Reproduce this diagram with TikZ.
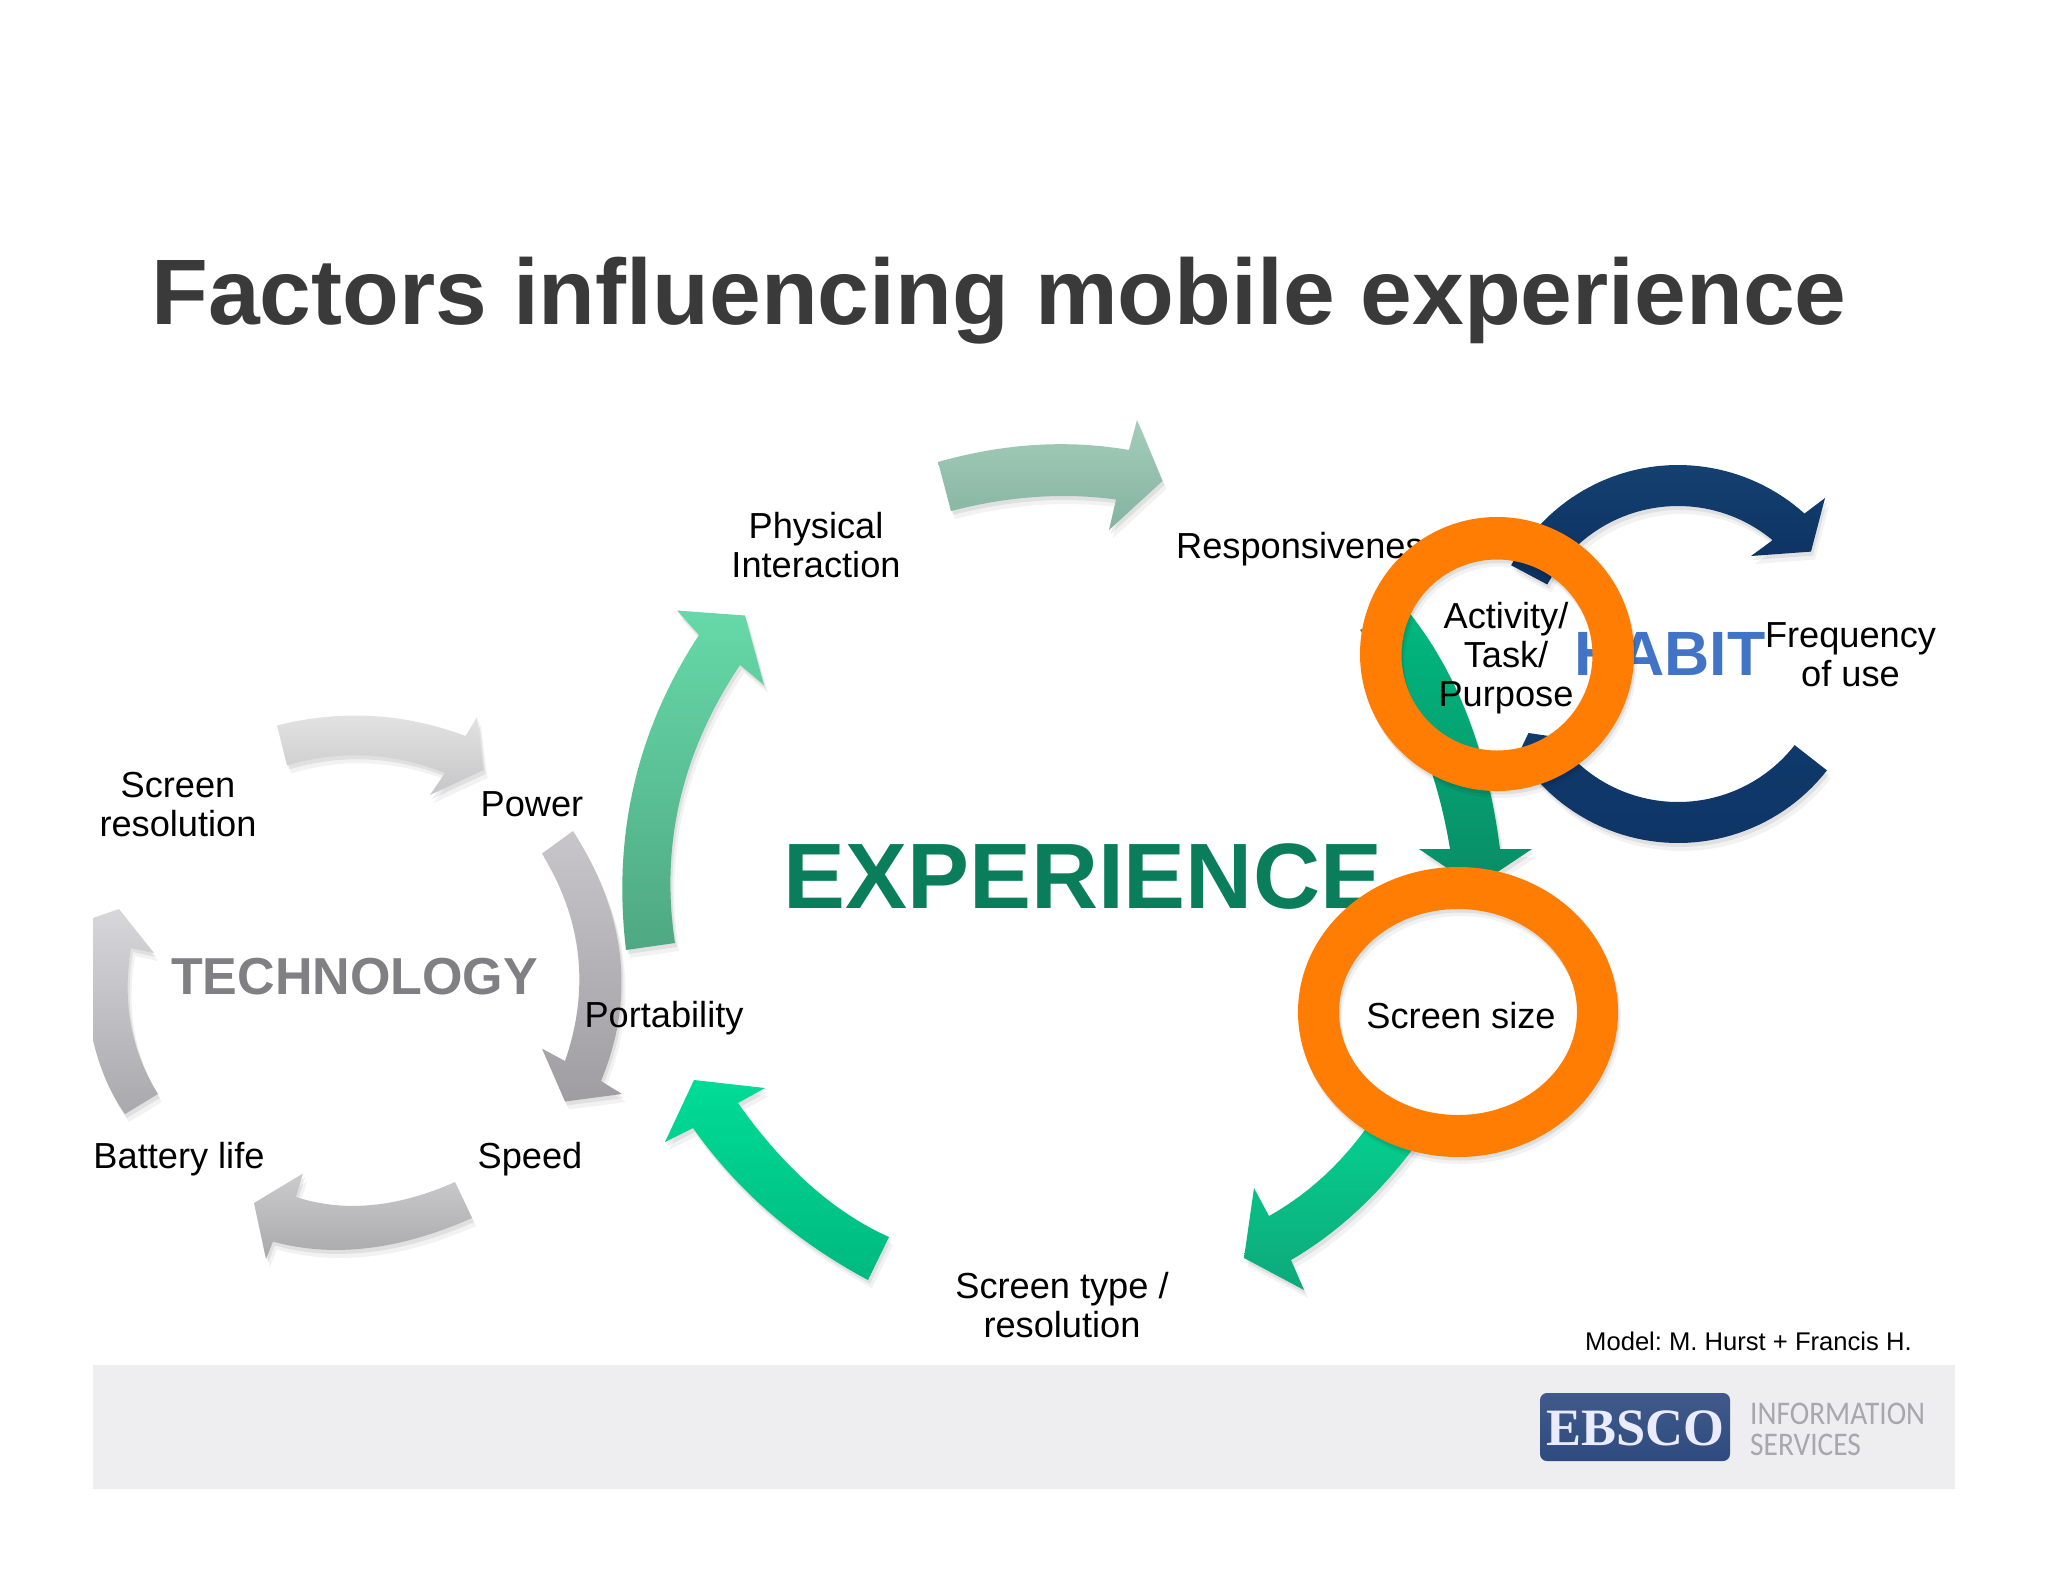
\documentclass[tikz,border=0pt]{standalone}
\usepackage{fontspec}
\usepackage{graphicx}
\usetikzlibrary{calc}
\setmainfont{Liberation Sans}
\newfontfamily\serifbrand{Liberation Serif}
\newfontfamily\lightbrand{Carlito}
\definecolor{ringorange}{HTML}{FE7D02}
\definecolor{titleink}{HTML}{3A3A3A}
\definecolor{expgreen}{HTML}{0A7D5A}
\definecolor{habitblue}{HTML}{4174C6}
\definecolor{techgray}{HTML}{808084}
\definecolor{bandgray}{HTML}{EEEDF0}
\definecolor{brandtext}{HTML}{A8A8AC}
\definecolor{logotop}{HTML}{3F5A8A}
\definecolor{logobottom}{HTML}{2F4A7E}
% curve from #1 through #2 (its middle) to #3
\newcommand\thru[3]{.. controls ($1.3333*(#2)-0.3333*(#3)$) and ($1.3333*(#2)-0.3333*(#1)$) .. (#3)}
\newcommand\blade[3]{%
  \definecolor{bladetop}{HTML}{#1}\definecolor{bladebottom}{HTML}{#2}%
  \fill[black,opacity=.05,shift={(4,8)}] #3 -- cycle;
  \fill[black,opacity=.07,shift={(2,4)}] #3 -- cycle;
  \shade[top color=bladetop,bottom color=bladebottom] #3 -- cycle;}
\tikzset{
  bodytext/.style={inner sep=0pt,anchor=base,align=center,text=black,font=\fontsize{36.2}{39}\selectfont},
  bigtext/.style={inner sep=0pt,anchor=base west,font=\bfseries\fontsize{#1}{#1}\selectfont},
  brandline/.style={inner sep=0pt,anchor=base west,text=brandtext,font=\lightbrand\fontsize{33}{33}\selectfont},
}
\begin{document}
\frenchspacing
\begin{tikzpicture}[x=1pt,y=-1pt]
\useasboundingbox (0,0) rectangle (2048,1582);
\fill[white] (0,0) rectangle (2048,1582);

% footer band and logo
\fill[bandgray] (93,1365) rectangle (1955,1489);
\shade[top color=logotop,bottom color=logobottom,rounded corners=7pt] (1540,1393) rectangle (1730,1461);
\node[inner sep=0pt,anchor=base,text=white!92!blue,font=\serifbrand\bfseries\fontsize{52.5}{52}\selectfont] (ebsco) at (1635,1445) {EBSCO};
\node[brandline] (info) at (1750,1424) {\scalebox{.89}[1]{INFORMATION}};
\node[brandline] (serv) at (1750,1455) {\scalebox{.89}[1]{SERVICES}};

% title
\node[inner sep=0pt,anchor=base,text=titleink,font=\bfseries\fontsize{93}{93}\selectfont] (title) at (999,324) {Factors influencing mobile experience};

% gray cycle
\blade{E4E4E4}{C6C6C8}{(277,725.5) \thru{277,725.5}{372,716}{465.6,736} -- (477,717) -- (483.5,770) -- (430,795) -- (445,773) \thru{445,773}{366,755.5}{287,765.4}}
\blade{C9C6CB}{9F9DA2}{(573,831) \thru{573,831}{620,956}{601,1081} -- (622,1094) -- (565,1101.5) -- (542,1048.6) -- (565,1061) \thru{565,1061}{578,955}{542,853.5}}
\blade{CBCBCD}{A9A9AC}{(455,1182) \thru{455,1182}{372,1205}{296,1197} -- (303,1173.5) -- (254,1203) -- (266,1259) -- (273,1241.6) \thru{273,1241.6}{368,1248}{472,1218}}
\blade{D6D6DB}{A9A9AD}{(125,1114) \thru{125,1114}{106,1080}{93,1040} -- (93,918) -- (119,909) -- (154,953) -- (131,948) \thru{131,948}{131,1025}{158,1094}}

% green cycle
\blade{66D9A8}{4FA883}{(626,950) \thru{626,950}{634,785}{699,635} -- (677,610.5) -- (745,615.5) -- (764,685) -- (740,665) \thru{740,665}{680,800}{675,943}}
\blade{A3CDB9}{85B3A0}{(938,462) \thru{938,462}{1035,445}{1129,450} -- (1137,420) -- (1162.5,481) -- (1109,530) -- (1116,499.5) \thru{1116,499.5}{1035,497}{951,511}}
\blade{00B97F}{0A8C66}{(1403,605) \thru{1403,605}{1466,712}{1500,849} -- (1532,849) -- (1475,887) -- (1419,849) -- (1450,849) \thru{1450,849}{1418,735}{1360,630}}
\blade{05D08F}{0EA87A}{(1372,1120) \thru{1372,1120}{1325,1175}{1269,1216} -- (1254,1188) -- (1244,1258) -- (1304,1290) -- (1291,1260) \thru{1291,1260}{1358,1210}{1418,1142}}
\blade{00DC96}{00B97E}{(889,1237) \thru{889,1237}{810,1185}{738,1103} -- (765,1088) -- (694,1080) -- (665,1142) -- (693,1128) \thru{693,1128}{770,1213}{868,1280}}

% habit cycle
\blade{14406F}{0B3060}{plot[domain=152:48,samples=50] ({1678+189*cos(\x)},{654-189*sin(\x)}) -- (1825,498) -- (1811,551.6) -- (1751,556) -- (1771.5,541) -- plot[domain=50.4:152,samples=50] ({1678+148*cos(\x)},{654-148*sin(\x)})}
\blade{0F3A6B}{0F3567}{plot[domain=-38:-147.5,samples=50] ({1678+189*cos(\x)},{654-189*sin(\x)}) -- (1522,746.5) -- (1528.5,733) -- (1549,736) -- plot[domain=-146.5:-38,samples=50] ({1678+148*cos(\x)},{654-148*sin(\x)})}

% words under the rings
\node[bigtext=92.9,text=expgreen] (experience) at (783,908) {EXPERIENCE};
\node[bigtext=52,text=techgray] (technology) at (171,994) {TECHNOLOGY};
\node[bigtext=62.6,text=habitblue] (habit) at (1574,675) {HABIT};
\node[bodytext,anchor=base west] (resp) at (1176,558) {Responsiveness};

% rings
\fill[black,opacity=.05,even odd rule,shift={(3,7)}] (1497,654) circle[radius=137] (1497,655) circle[radius=95.5];
\fill[black,opacity=.08,even odd rule,shift={(1.5,3.5)}] (1497,654) circle[radius=137] (1497,655) circle[radius=95.5];
\fill[ringorange,even odd rule] (1497,654) circle[radius=137] (1497,655) circle[radius=95.5];
\fill[black,opacity=.05,even odd rule,shift={(3,7)}] (1458,1012) ellipse[x radius=160,y radius=145] (1458,1012) ellipse[x radius=119,y radius=103];
\fill[black,opacity=.08,even odd rule,shift={(1.5,3.5)}] (1458,1012) ellipse[x radius=160,y radius=145] (1458,1012) ellipse[x radius=119,y radius=103];
\fill[ringorange,even odd rule] (1458,1012) ellipse[x radius=160,y radius=145] (1458,1012) ellipse[x radius=119,y radius=103];

% labels
\node[bodytext] (power) at (532,816) {Power};
\node[bodytext] (screenres) at (178,836) {Screen\\resolution};
\node[bodytext] (portability) at (664,1027) {Portability};
\node[bodytext] (speed) at (530,1168) {Speed};
\node[bodytext] (battery) at (179,1168) {Battery life};
\node[bodytext] (physical) at (816,577) {Physical\\Interaction};
\node[bodytext] (activity) at (1506,706) {Activity/\\Task/\\Purpose};
\node[bodytext] (frequency) at (1850.5,686) {Frequency\\of use};
\node[bodytext] (screensize) at (1461,1028) {Screen size};
\node[bodytext] (screentype) at (1062,1337) {Screen type /\\resolution};
\node[inner sep=0pt,anchor=base west,font=\fontsize{25.6}{30}\selectfont] (model) at (1585,1350) {Model: M. Hurst + Francis H.};
\end{tikzpicture}
\end{document}
